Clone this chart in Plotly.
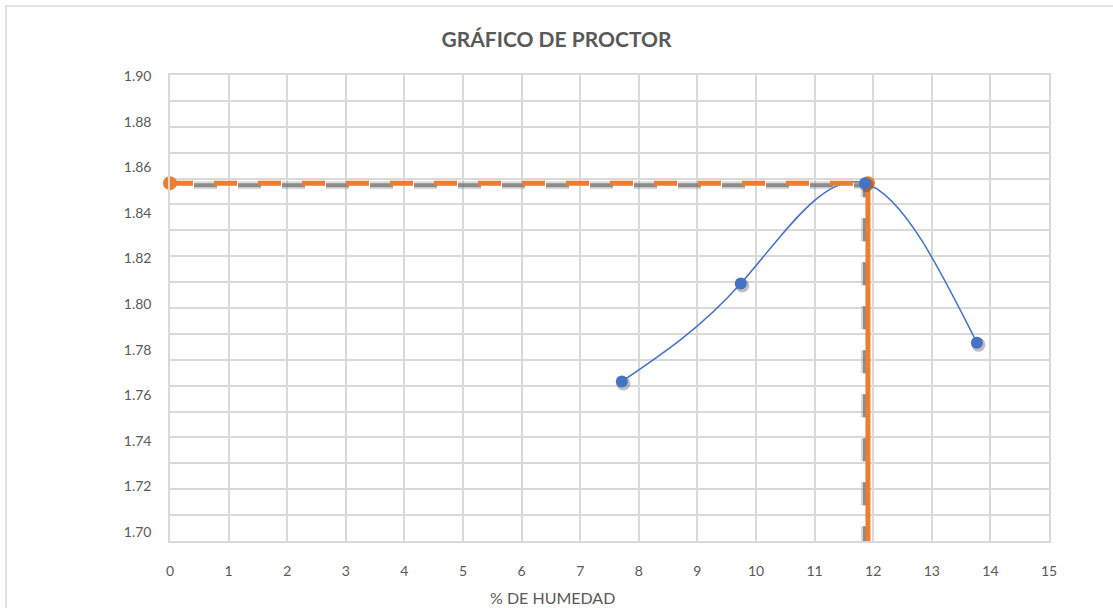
import plotly.graph_objects as go

# ---------------- data ----------------
humedad = [7.71, 9.74, 11.86, 13.77]        # % de humedad
densidad = [1.766, 1.809, 1.853, 1.783]     # densidad seca
omc = [11.91]                                # humedad óptima
mdd = [1.853]                                # densidad máxima
x_ticks = list(range(0, 16))
y_ticks = [1.70, 1.72, 1.74, 1.76, 1.78, 1.80, 1.82, 1.84, 1.86, 1.88, 1.90]
y_tick_text = ["1.70", "1.72", "1.74", "1.76", "1.78", "1.80", "1.82", "1.84", "1.86", "1.88", "1.90"]
grid_rows = 18
chart_title = "GRÁFICO DE PROCTOR"
x_title = "% DE HUMEDAD"

# ---------------- layout geometry (pixels) ----------------
W, H = 1113, 608
L, R, T, B = 170, 1049, 75, 541
lab_top_px, lab_bot_px = 76, 532
kx = (R - L) / (x_ticks[-1] - x_ticks[0])
ky = (lab_bot_px - lab_top_px) / (y_ticks[-1] - y_ticks[0])
y_hi = y_ticks[-1] + (lab_top_px - T) / ky
y_lo = y_ticks[0] - (B - lab_bot_px) / ky

def px_dx(p):
    return p / kx

def px_dy(p):
    return p / ky

ORANGE = "#ED7D31"
BLUE = "#4472C4"
GRID = "#d9d9d9"
TXT = "#595959"
FONT = "Lato"


# ---- smoothed line (like the spreadsheet's "smoothed line"): natural cubic
#      spline through the data points, drawn as cubic Bezier segments ----
def smooth_path(xs, ys):
    n = len(xs)
    h = [xs[i + 1] - xs[i] for i in range(n - 1)]
    s = [(ys[i + 1] - ys[i]) / h[i] for i in range(n - 1)]
    # tridiagonal system for interior second derivatives (natural ends)
    m = n - 2
    a = [h[i] for i in range(m)]
    b = [2 * (h[i] + h[i + 1]) for i in range(m)]
    c = [h[i + 1] for i in range(m)]
    d = [6 * (s[i + 1] - s[i]) for i in range(m)]
    for i in range(1, m):
        w = a[i] / b[i - 1]
        b[i] -= w * c[i - 1]
        d[i] -= w * d[i - 1]
    Mi = [0.0] * m
    for i in range(m - 1, -1, -1):
        Mi[i] = (d[i] - (c[i] * Mi[i + 1] if i < m - 1 else 0)) / b[i]
    M = [0.0] + Mi + [0.0]
    slopes = []
    for i in range(n - 1):
        slopes.append(s[i] - h[i] * (2 * M[i] + M[i + 1]) / 6)
    slopes.append(s[-1] + h[-1] * (M[-2] + 2 * M[-1]) / 6)
    path = f"M {xs[0]},{ys[0]}"
    for i in range(n - 1):
        c1x = xs[i] + h[i] / 3
        c1y = ys[i] + slopes[i] * h[i] / 3
        c2x = xs[i + 1] - h[i] / 3
        c2y = ys[i + 1] - slopes[i + 1] * h[i] / 3
        path += f" C {c1x},{c1y} {c2x},{c2y} {xs[i + 1]},{ys[i + 1]}"
    return path


fig = go.Figure()

# gray dashed shadow lines (soft halo + core)
sx = [0 - px_dx(20), omc[0] - px_dx(3), omc[0] - px_dx(3)]
sy = [mdd[0] - px_dy(2), mdd[0] - px_dy(2), y_lo - 1]
fig.add_trace(go.Scatter(x=sx, y=sy, mode="lines",
                         line=dict(color="rgba(150,150,150,0.35)", width=8, dash="23px,21px"),
                         hoverinfo="skip", showlegend=False))
fig.add_trace(go.Scatter(x=sx, y=sy, mode="lines",
                         line=dict(color="rgba(120,120,120,0.8)", width=4, dash="23px,21px"),
                         hoverinfo="skip", showlegend=False))

# orange horizontal dashed
fig.add_trace(go.Scatter(x=[0, omc[0]], y=[mdd[0], mdd[0]], mode="lines",
                         line=dict(color=ORANGE, width=5, dash="23px,21px"),
                         hoverinfo="skip", showlegend=False))
# orange vertical solid
fig.add_trace(go.Scatter(x=[omc[0], omc[0]], y=[mdd[0], y_lo - 1], mode="lines",
                         line=dict(color=ORANGE, width=5),
                         hoverinfo="skip", showlegend=False))
# orange end markers
fig.add_trace(go.Scatter(x=[0, omc[0]], y=[mdd[0], mdd[0]], mode="markers",
                         marker=dict(color=ORANGE, size=14),
                         cliponaxis=False, hoverinfo="skip", showlegend=False))

# marker shadows
fig.add_trace(go.Scatter(x=[v + px_dx(1.5) for v in humedad],
                         y=[v - px_dy(2) for v in densidad], mode="markers",
                         marker=dict(color="rgba(40,40,40,0.3)", size=14),
                         hoverinfo="skip", showlegend=False))
# blue markers
fig.add_trace(go.Scatter(x=humedad, y=densidad, mode="markers",
                         marker=dict(color=BLUE, size=12), showlegend=False))

# helper (invisible) trace for the grid axis
fig.add_trace(go.Scatter(x=[x_ticks[0]], y=[0], yaxis="y2", mode="markers",
                         marker=dict(opacity=0), hoverinfo="skip", showlegend=False))

fig.update_layout(
    width=W, height=H,
    margin=dict(l=L, r=W - R, t=T, b=H - B),
    paper_bgcolor="white", plot_bgcolor="white",
    font=dict(family=FONT, color=TXT),
    title=dict(text="<b>" + chart_title + "</b>", x=0.5, xref="container",
               xanchor="center", y=1 - 40 / H, yref="container", yanchor="middle",
               font=dict(family=FONT, size=21, color=TXT)),
    xaxis=dict(range=[x_ticks[0], x_ticks[-1]], tickmode="array", tickvals=x_ticks,
               showgrid=True, gridcolor=GRID, gridwidth=1.5, zeroline=False,
               showline=True, linecolor=GRID, linewidth=1.5, mirror=True,
               ticks="outside", ticklen=16, tickcolor="rgba(0,0,0,0)",
               tickfont=dict(family=FONT, size=14, color=TXT)),
    yaxis=dict(range=[y_lo, y_hi], tickmode="array", tickvals=y_ticks, ticktext=y_tick_text,
               showgrid=False, zeroline=False,
               showline=True, linecolor=GRID, linewidth=1.5, mirror=True,
               ticks="outside", ticklen=14, tickcolor="rgba(0,0,0,0)",
               tickfont=dict(family=FONT, size=14, color=TXT)),
    yaxis2=dict(overlaying="y", range=[0, grid_rows], dtick=1, showgrid=True,
                gridcolor=GRID, gridwidth=1.5, zeroline=False, showticklabels=False,
                side="right", showline=False),
    shapes=[
        dict(type="rect", xref="paper", yref="paper",
             x0=(6 - L) / (R - L), x1=(W + 20 - L) / (R - L),
             y0=(B - (H + 20)) / (B - T), y1=(B - 6) / (B - T),
             line=dict(color=GRID, width=1.5), fillcolor="rgba(0,0,0,0)", layer="below"),
        dict(type="path", xref="x", yref="y", path=smooth_path(humedad, densidad),
             line=dict(color=BLUE, width=1.5), layer="between"),
    ],
    annotations=[dict(text=x_title, xref="paper", yref="paper",
                      x=(552 - L) / (R - L), y=(B - 597) / (B - T),
                      xanchor="center", yanchor="middle", showarrow=False,
                      font=dict(family=FONT, size=16, color=TXT))],
)

fig.write_html("out.html")
